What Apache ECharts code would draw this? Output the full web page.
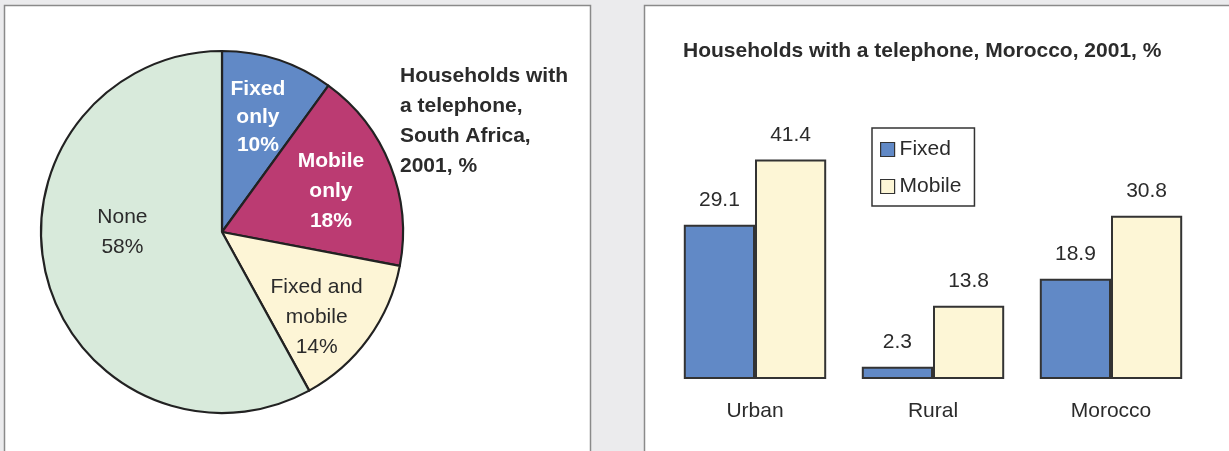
<!DOCTYPE html>
<html>
<head>
<meta charset="utf-8">
<script src="https://cdn.jsdelivr.net/npm/echarts@6/dist/echarts.min.js"></script>
<style>
  html, body { margin: 0; padding: 0; background: #ebebed; }
  #chart { width: 1229px; height: 451px; }
</style>
</head>
<body>
<div id="chart"></div>
<script>
// South Africa: household telephone access, 2001 (%)
const pieNames = ['Fixed\nonly', 'Mobile\nonly', 'Fixed and\nmobile', 'None'];
const pieValues = [10, 18, 14, 58];

// Morocco: households with a telephone, 2001 (%)
const barCategories = ['Urban', 'Rural', 'Morocco'];
const fixedValues = [29.1, 2.3, 18.9];
const mobileValues = [41.4, 13.8, 30.8];

const FONT = '"Liberation Sans", Arial, sans-serif';
const INK = '#2b2b2b';
const FS = 21;

// per-slice label styling and nudges away from the default inside spot
const sliceColors = ['#6189c6', '#bb3b72', '#fdf5d6', '#d8eadb'];
const sliceLabelStyle = [
  { color: '#ffffff', fontWeight: 'bold', lineHeight: 28 },
  { color: '#ffffff', fontWeight: 'bold', lineHeight: 30 },
  { color: INK, fontWeight: 'normal', lineHeight: 30 },
  { color: INK, fontWeight: 'normal', lineHeight: 30 }
];
const sliceNudge = [[7, -26], [22, -6], [19, 30], [-9, -23]];

const chart = echarts.init(document.getElementById('chart'), null, { renderer: 'canvas' });

const option = {
  backgroundColor: '#ebebed',
  animation: false,
  textStyle: { fontFamily: FONT },
  graphic: [
    {
      type: 'rect', z: -10, silent: true,
      shape: { x: 4.5, y: 5.5, width: 586, height: 460 },
      style: { fill: '#ffffff', stroke: '#8a8a8a', lineWidth: 1.5 }
    },
    {
      type: 'rect', z: -10, silent: true,
      shape: { x: 644.5, y: 5.5, width: 600, height: 460 },
      style: { fill: '#ffffff', stroke: '#8a8a8a', lineWidth: 1.5 }
    }
  ],
  title: [
    {
      text: 'Households with\na telephone,\nSouth Africa,\n2001, %',
      left: 395, top: 56,
      textStyle: { fontFamily: FONT, fontWeight: 'bold', fontSize: FS, lineHeight: 30, color: INK }
    },
    {
      text: 'Households with a telephone, Morocco, 2001, %',
      left: 678, top: 36,
      textStyle: { fontFamily: FONT, fontWeight: 'bold', fontSize: FS, color: INK }
    }
  ],
  legend: {
    orient: 'vertical',
    left: 872, top: 128,
    data: ['Fixed', 'Mobile'],
    icon: 'rect',
    itemWidth: 14, itemHeight: 14,
    itemGap: 16,
    padding: [11, 13, 9, 8],
    backgroundColor: '#ffffff',
    borderColor: '#333333',
    borderWidth: 1.5,
    borderRadius: 0,
    itemStyle: { borderColor: '#333333', borderWidth: 1.2 },
    textStyle: { fontFamily: FONT, fontSize: FS, color: INK }
  },
  grid: { left: 666, right: 29, top: 114, bottom: 72 },
  xAxis: {
    type: 'category',
    data: barCategories,
    axisLine: { show: false },
    axisTick: { show: false },
    axisLabel: { margin: 22, fontFamily: FONT, fontSize: FS, color: INK }
  },
  yAxis: {
    type: 'value', min: 0, max: 50, interval: 10,
    show: false,
    splitLine: { show: false }
  },
  series: [
    {
      type: 'pie',
      center: [222, 232],
      radius: 181,
      startAngle: 90,
      clockwise: true,
      avoidLabelOverlap: false,
      labelLine: { show: false },
      itemStyle: { borderColor: '#222222', borderWidth: 2.2 },
      label: {
        show: true,
        position: 'inside',
        fontFamily: FONT,
        fontSize: FS,
        align: 'center',
        formatter: p => p.name + '\n' + p.value + '%'
      },
      labelLayout: p => ({ dx: sliceNudge[p.dataIndex][0], dy: sliceNudge[p.dataIndex][1] }),
      data: pieValues.map((v, i) => ({
        name: pieNames[i],
        value: v,
        itemStyle: { color: sliceColors[i] },
        label: sliceLabelStyle[i]
      }))
    },
    {
      name: 'Fixed',
      type: 'bar',
      data: fixedValues,
      barGap: '0%',
      barCategoryGap: '20%',
      itemStyle: { color: '#6189c6', borderColor: '#333333', borderWidth: 2 },
      label: {
        show: true, position: 'top', distance: 14,
        fontFamily: FONT, fontSize: FS, color: INK
      }
    },
    {
      name: 'Mobile',
      type: 'bar',
      data: mobileValues,
      barGap: '0%',
      barCategoryGap: '20%',
      itemStyle: { color: '#fdf6d6', borderColor: '#333333', borderWidth: 2 },
      label: {
        show: true, position: 'top', distance: 14,
        fontFamily: FONT, fontSize: FS, color: INK
      }
    }
  ]
};

chart.setOption(option);
</script>
</body>
</html>
